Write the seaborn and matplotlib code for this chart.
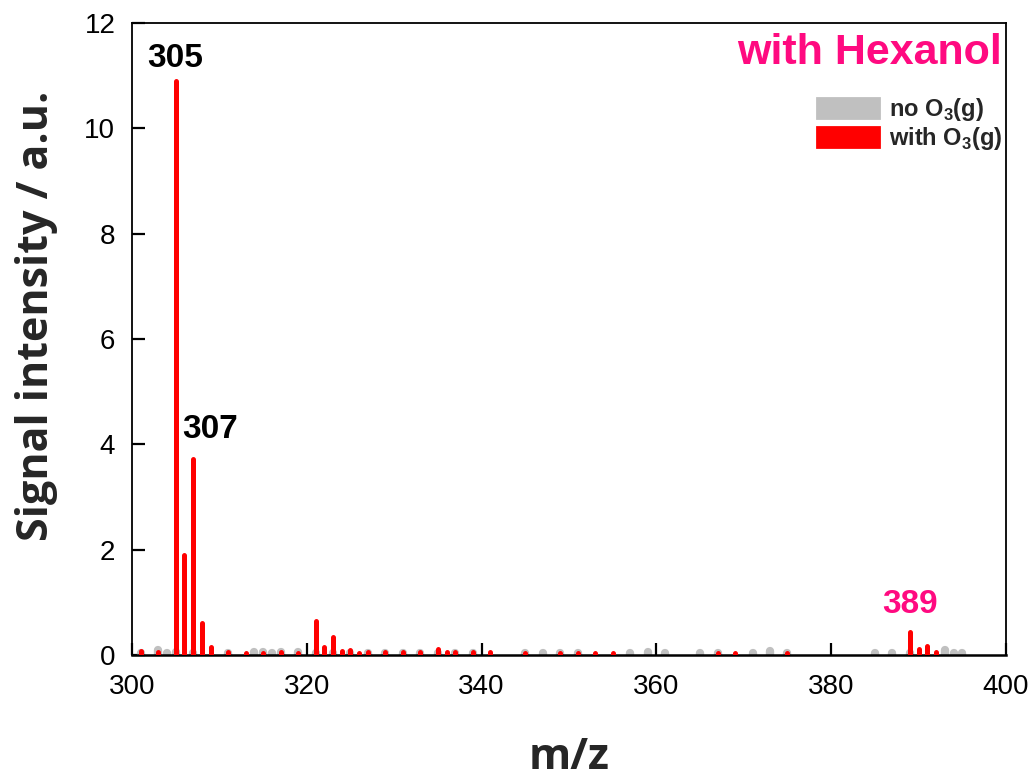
import numpy as np
import pandas as pd
import matplotlib
matplotlib.use("Agg")
import matplotlib.pyplot as plt
import seaborn as sns
from matplotlib.patches import Patch

# m/z and intensities
mz_no = [301, 303, 304, 305, 307, 311, 314, 315, 316, 317, 319, 321, 323, 325,
         327, 329, 331, 333, 335, 337, 339, 345, 347, 349, 351, 357, 359, 361,
         365, 367, 371, 373, 375, 385, 387, 389, 393, 394, 395]
int_no = [0.03, 0.09, 0.04, 0.06, 0.03, 0.04, 0.06, 0.05, 0.03, 0.05, 0.05, 0.03,
          0.03, 0.04, 0.03, 0.03, 0.03, 0.04, 0.03, 0.03, 0.04, 0.03, 0.03, 0.03,
          0.03, 0.03, 0.05, 0.03, 0.03, 0.03, 0.03, 0.08, 0.04, 0.03, 0.04, 0.03,
          0.1, 0.04, 0.04]

mz_o3 = [301, 303, 305, 306, 307, 308, 309, 311, 313, 315, 317, 319, 321, 322,
         323, 324, 325, 326, 327, 329, 331, 333, 335, 336, 337, 339, 341, 345,
         349, 351, 353, 355, 367, 369, 375, 389, 390, 391, 392]
int_o3 = [0.08, 0.06, 10.9, 1.9, 3.72, 0.61, 0.15, 0.05, 0.04, 0.04, 0.05, 0.04,
          0.64, 0.16, 0.34, 0.08, 0.1, 0.04, 0.05, 0.05, 0.06, 0.05, 0.12, 0.06,
          0.05, 0.06, 0.06, 0.03, 0.03, 0.03, 0.03, 0.03, 0.03, 0.04, 0.03, 0.43,
          0.12, 0.17, 0.06]

pink = '#FF0A80'
peak_labels = [("305", 304.95, 11.33, "black"), ("307", 308.9, 4.28, "black"),
               ("389", 389.0, 0.96, pink)]

sns.set_style("ticks")
plt.rcParams['font.family'] = ['Liberation Sans', 'DejaVu Sans']
plt.rcParams['mathtext.fontset'] = 'custom'
plt.rcParams['mathtext.bf'] = 'Liberation Sans:bold'
plt.rcParams['mathtext.rm'] = 'Liberation Sans:bold'

df_no = pd.DataFrame({'mz': mz_no, 'I': int_no})
df_o3 = pd.DataFrame({'mz': mz_o3, 'I': int_o3})

fig = plt.figure(figsize=(10.36, 7.8), dpi=100)
ax = fig.add_axes([0.1274, 0.1603, 0.8436, 0.8102])

gray = '#C0C0C0'
red = '#FF0000'
ax.vlines(df_no['mz'], 0, df_no['I'], colors=gray, linewidth=6,
          capstyle='round', zorder=2)
ax.vlines(df_o3['mz'], 0, df_o3['I'], colors=red, linewidth=3.6,
          capstyle='round', zorder=3)

ax.set_xlim(300, 400)
ax.set_ylim(0, 12)
ax.set_xticks(np.arange(300, 401, 20))
ax.set_yticks(np.arange(0, 13, 2))
ax.tick_params(direction='in', length=9, width=1.6, labelsize=20,
               colors='black')
ax.tick_params(axis='x', pad=14)
ax.tick_params(axis='y', pad=12)
for s in ax.spines.values():
    s.set_linewidth(1.3)
    s.set_color('black')
ax.spines['bottom'].set_linewidth(1.8)

ax.set_xlabel('m/z', fontsize=31, fontweight='bold', family='Open Sans')
ax.xaxis.set_label_coords(0.5, -0.128)
ax.set_ylabel('Signal intensity / a.u.', fontsize=31, fontweight='bold',
              family='Open Sans')
ax.yaxis.set_label_coords(-0.085, 0.536)

for txt, x, y, c in peak_labels:
    ax.text(x, y, txt, ha='center', va='center', fontsize=24,
            fontweight='bold', color=c)

ax.text(0.9955, 0.952, 'with Hexanol', transform=ax.transAxes, ha='right',
        va='center', fontsize=31, fontweight='bold', color=pink)

handles = [Patch(facecolor=gray, edgecolor=gray, linewidth=2, joinstyle='round',
                 label=r'no O$_3$(g)'),
           Patch(facecolor=red, edgecolor=red, linewidth=2, joinstyle='round',
                 label=r'with O$_3$(g)')]
ax.legend(handles=handles, loc='upper left', bbox_to_anchor=(0.784, 0.884),
          frameon=False, prop={'weight': 'bold', 'size': 17},
          handlelength=2.6, handleheight=0.95, handletextpad=0.45,
          labelspacing=0.08, borderaxespad=0, borderpad=0)

fig.savefig('out.png', dpi=100)
